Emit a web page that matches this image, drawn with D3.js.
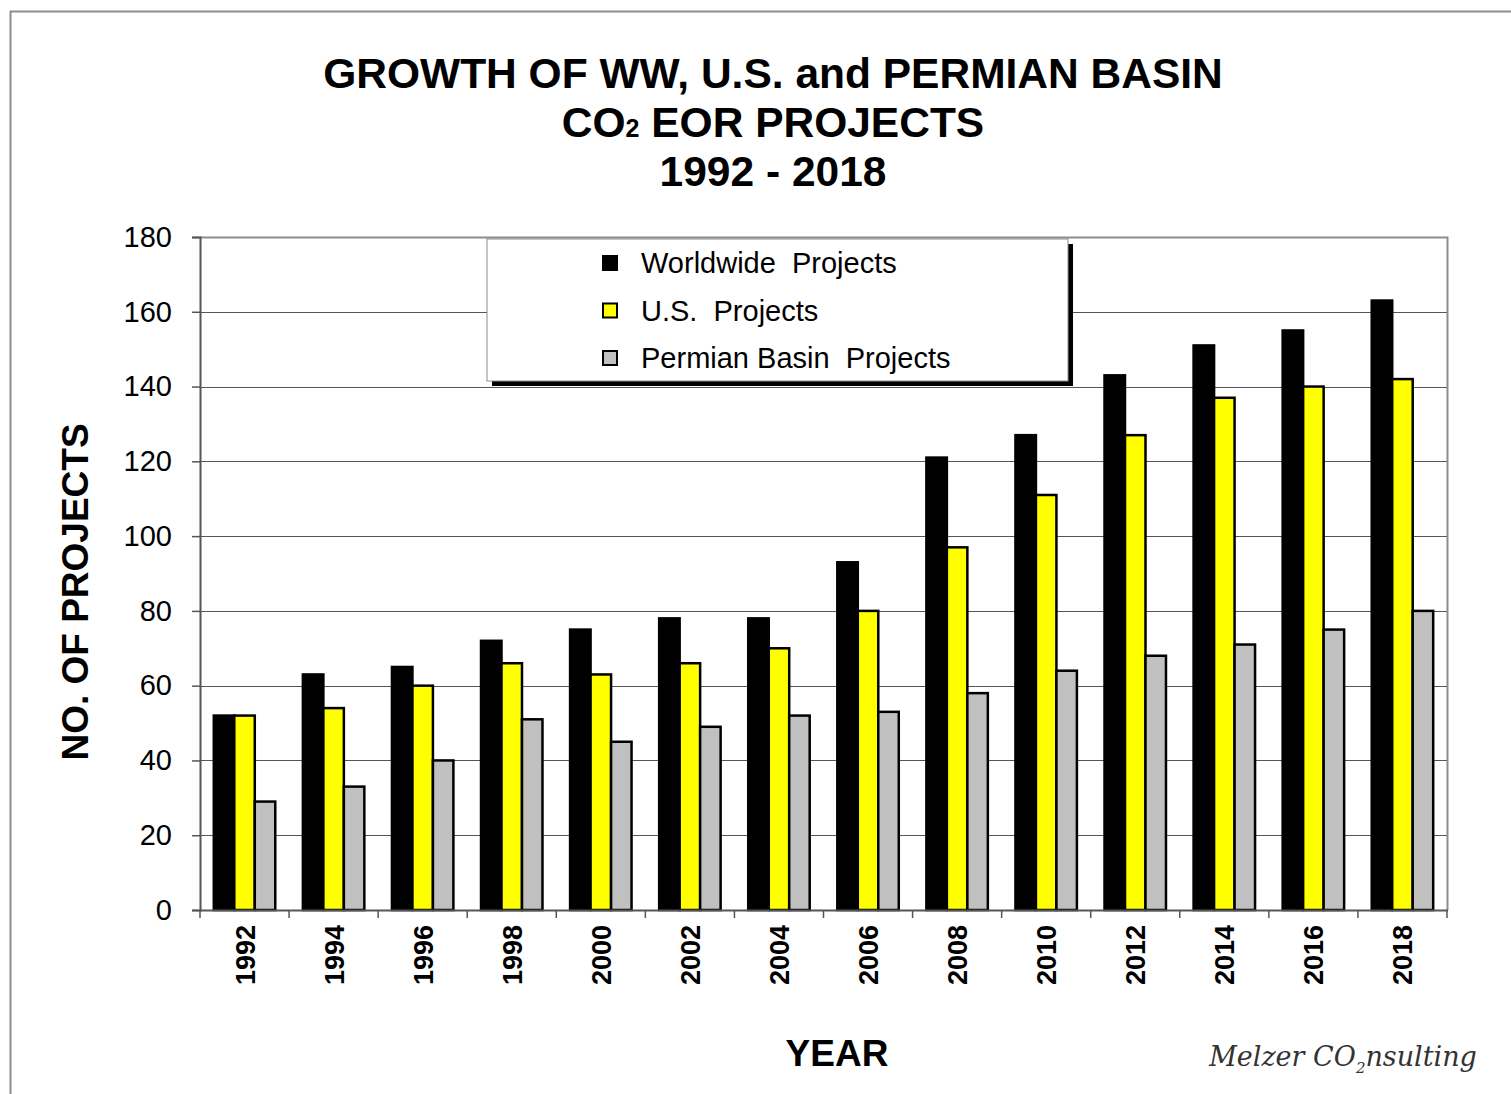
<!DOCTYPE html>
<html>
<head>
<meta charset="utf-8">
<script src="https://cdn.jsdelivr.net/npm/d3@7"></script>
<style>
  body { margin: 0; background: #fff; }
  text { font-family: "Liberation Sans", Arial, sans-serif; white-space: pre; }
</style>
</head>
<body>
<svg id="chart" width="1511" height="1094"></svg>
<script>
const years = ["1992", "1994", "1996", "1998", "2000", "2002", "2004",
               "2006", "2008", "2010", "2012", "2014", "2016", "2018"];
const worldwide = [52, 63, 65, 72, 75, 78, 78, 93, 121, 127, 143, 151, 155, 163];
const usProjects = [52, 54, 60, 66, 63, 66, 70, 80, 97, 111, 127, 137, 140, 142];
const permian = [29, 33, 40, 51, 45, 49, 52, 53, 58, 64, 68, 71, 75, 80];
const seriesNames = ["Worldwide  Projects", "U.S.  Projects", "Permian Basin  Projects"];
const seriesColors = ["#000000", "#ffff00", "#c0c0c0"];
const yTicks = [0, 20, 40, 60, 80, 100, 120, 140, 160, 180];

const svg = d3.select("#chart");
const margin = {left: 200, right: 64, top: 237, bottom: 184};
const width = 1511, height = 1094;
const x0 = margin.left, x1 = width - margin.right;
const y0 = height - margin.bottom, y1 = margin.top;

// outer frame (top + left edge only visible)
svg.append("path")
    .attr("d", "M10.5,1094 V11.5 H1511")
    .attr("fill", "none")
    .attr("stroke", "#8c8c8c")
    .attr("stroke-width", 2);

const x = d3.scaleBand().domain(years).range([x0, x1]).paddingInner(0.31).paddingOuter(0.155);
const xSub = d3.scaleBand().domain([0, 1, 2]).range([0, x.bandwidth()]);
const y = d3.scaleLinear().domain([0, 180]).range([y0, y1]);

// gridlines
svg.append("g")
    .selectAll("line")
    .data(yTicks.filter(d => d > 0 && d < 180))
    .join("line")
    .attr("x1", x0).attr("x2", x1)
    .attr("y1", d => Math.round(y(d)) + 0.5).attr("y2", d => Math.round(y(d)) + 0.5)
    .attr("stroke", "#555")
    .attr("stroke-width", 1);

// plot border (top and right)
svg.append("path")
    .attr("d", `M${x0},${y1 + 0.5} H${x1 + 0.5} V${y0}`)
    .attr("fill", "none")
    .attr("stroke", "#8c8c8c")
    .attr("stroke-width", 2);

// bars
const series = [worldwide, usProjects, permian];
series.forEach((vals, si) => {
    svg.append("g")
        .selectAll("rect")
        .data(vals)
        .join("rect")
        .attr("x", (d, i) => x(years[i]) + xSub(si))
        .attr("y", d => y(d))
        .attr("width", xSub.bandwidth())
        .attr("height", d => y0 - y(d))
        .attr("fill", seriesColors[si])
        .attr("stroke", "#000")
        .attr("stroke-width", 2.5);
});

// y axis
const yAxis = svg.append("g")
    .attr("transform", `translate(${x0},0)`)
    .call(d3.axisLeft(y).tickValues(yTicks).tickSize(8).tickPadding(20));
yAxis.select(".domain").attr("stroke", "#555").attr("stroke-width", 2);
yAxis.selectAll(".tick line").attr("stroke", "#555").attr("stroke-width", 1.5);
yAxis.selectAll(".tick text")
    .attr("font-size", 29)
    .attr("font-family", "Liberation Sans, Arial, sans-serif")
    .attr("fill", "#000");

// x axis: ticks at group boundaries
const step = x.step();
const bounds = d3.range(years.length + 1).map(i => x0 + i * step);
svg.append("line")
    .attr("x1", x0).attr("x2", x1 + 1)
    .attr("y1", y0 + 0.5).attr("y2", y0 + 0.5)
    .attr("stroke", "#555").attr("stroke-width", 2);
svg.append("g")
    .selectAll("line")
    .data(bounds)
    .join("line")
    .attr("x1", d => d).attr("x2", d => d)
    .attr("y1", y0).attr("y2", y0 + 8)
    .attr("stroke", "#555").attr("stroke-width", 1.5);

svg.append("g")
    .selectAll("text")
    .data(years)
    .join("text")
    .attr("transform", d => `translate(${x(d) + x.bandwidth() / 2 + 10},${y0 + 15}) rotate(-90)`)
    .attr("text-anchor", "end")
    .attr("font-size", 27)
    .attr("font-weight", "bold")
    .text(d => d);

// axis titles
svg.append("text")
    .attr("transform", "translate(88,592) rotate(-90)")
    .attr("text-anchor", "middle")
    .attr("font-size", 37)
    .attr("font-weight", "bold")
    .text("NO. OF PROJECTS");

svg.append("text")
    .attr("x", 837).attr("y", 1066)
    .attr("text-anchor", "middle")
    .attr("font-size", 37)
    .attr("font-weight", "bold")
    .text("YEAR");

// title
const title = svg.append("text")
    .attr("text-anchor", "middle")
    .attr("font-size", 42.5)
    .attr("font-weight", "bold");
title.append("tspan").attr("x", 773).attr("y", 88).text("GROWTH OF WW, U.S. and PERMIAN BASIN");
const t2 = title.append("tspan").attr("x", 773).attr("y", 137);
t2.append("tspan").text("CO");
t2.append("tspan").attr("font-size", 25).text("2");
t2.append("tspan").text(" EOR PROJECTS");
title.append("tspan").attr("x", 773).attr("y", 186).text("1992 - 2018");

// legend
const lg = svg.append("g").attr("transform", "translate(487,239)");
lg.append("rect")
    .attr("x", 5).attr("y", 5).attr("width", 581).attr("height", 142)
    .attr("fill", "#000");
lg.append("rect")
    .attr("x", 0).attr("y", 0).attr("width", 581).attr("height", 142)
    .attr("fill", "#fff").attr("stroke", "#8c8c8c").attr("stroke-width", 1);
const items = lg.selectAll("g.item")
    .data(seriesNames)
    .join("g")
    .attr("class", "item")
    .attr("transform", (d, i) => `translate(0,${24 + i * 47.5})`);
items.append("rect")
    .attr("x", 116).attr("y", -7).attr("width", 14).attr("height", 14)
    .attr("fill", (d, i) => seriesColors[i])
    .attr("stroke", "#000").attr("stroke-width", 2);
items.append("text")
    .attr("x", 154).attr("y", 10)
    .attr("font-size", 29)
    .text(d => d);

// signature
const sig = svg.append("text")
    .attr("x", 1343).attr("y", 1066)
    .attr("text-anchor", "middle")
    .attr("font-size", 27)
    .attr("font-style", "italic")
    .attr("fill", "#333")
    .style("font-family", "'DejaVu Serif', serif");
sig.append("tspan").text("Melzer CO");
sig.append("tspan").attr("font-size", 15).attr("dy", 7).text("2");
sig.append("tspan").attr("dy", -7).text("nsulting");
</script>
</body>
</html>
